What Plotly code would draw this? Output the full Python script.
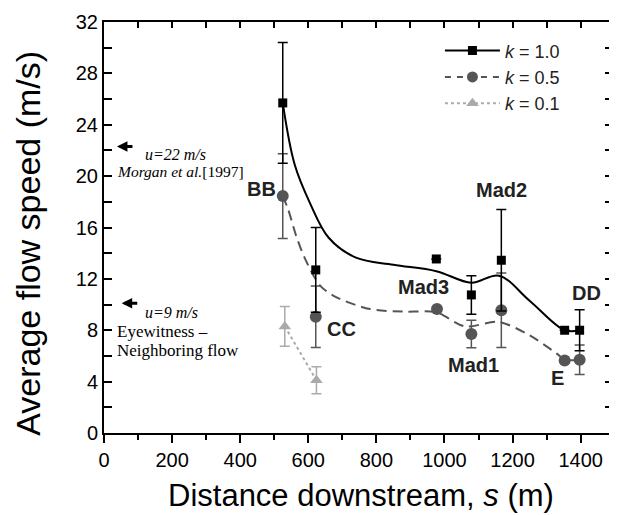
import plotly.graph_objects as go

# ---- data ----
k1_x = [525, 622, 976, 1079, 1167, 1353, 1397]
k1_y = [25.7, 12.7, 13.55, 10.75, 13.45, 8.0, 8.0]
k1_err = [4.7, 3.3, 0, 1.5, 3.95, 0, 1.6]

k5_x = [525, 622, 978, 1079, 1167, 1353, 1397]
k5_y = [18.45, 9.05, 9.65, 7.7, 9.55, 5.65, 5.7]
k5_err = [3.3, 2.4, 0, 1.07, 2.9, 0, 1.15]

k01_x = [531, 624]
k01_y = [8.3, 4.1]
k01_err = [1.55, 1.05]

# smoothed fit curves
fit1_x = [525, 560, 605, 660, 740, 850, 976, 1079, 1160, 1250, 1353, 1397]
fit1_y = [25.7, 20.9, 17.9, 15.2, 13.65, 13.1, 12.6, 11.7, 12.25, 10.3, 8.0, 8.0]

fit5_x = [525, 541, 565, 590, 634, 680, 781, 878, 976, 1060, 1160, 1250, 1329, 1353, 1397]
fit5_y = [18.45, 17.4, 15.3, 13.6, 11.5, 10.6, 9.65, 9.45, 9.4, 8.3, 8.65, 7.6, 6.2, 5.7, 5.7]

site_labels = ["BB", "CC", "Mad3", "Mad1", "Mad2", "DD", "E"]
site_lx = [510, 649, 937, 1084, 1167, 1416, 1333]
site_ly = [19.0, 8.1, 11.35, 5.3, 18.9, 10.9, 4.3]
site_anchor = ["right", "left", "center", "center", "center", "center", "center"]

legend_names = ["<i>k</i> = 1.0", "<i>k</i> = 0.5", "<i>k</i> = 0.1"]

C1, C5, C01 = "#000000", "#555555", "#aaaaaa"
SANS = "Liberation Sans, Arial, sans-serif"
SERIF = "Liberation Serif, Times New Roman, serif"

fig = go.Figure()

# fit curves
fig.add_trace(go.Scatter(x=fit1_x, y=fit1_y, mode="lines", line=dict(color=C1, width=2, shape="spline", smoothing=1.0),
                         showlegend=False, hoverinfo="skip"))
fig.add_trace(go.Scatter(x=fit5_x, y=fit5_y, mode="lines", line=dict(color=C5, width=2, dash="10px,6px", shape="spline", smoothing=0.8),
                         showlegend=False, hoverinfo="skip"))

# k = 0.1 (connected)
fig.add_trace(go.Scatter(x=k01_x, y=k01_y, mode="lines+markers",
                         line=dict(color=C01, width=2, dash="dot"),
                         marker=dict(symbol="triangle-up", size=11, color=C01),
                         error_y=dict(type="data", array=k01_err, color=C01, thickness=1.5, width=5),
                         showlegend=False))
# k = 0.5 points
fig.add_trace(go.Scatter(x=k5_x, y=k5_y, mode="markers",
                         marker=dict(symbol="circle", size=12, color=C5),
                         error_y=dict(type="data", array=k5_err, color=C5, thickness=1.5, width=5),
                         showlegend=False))
# k = 1.0 points
fig.add_trace(go.Scatter(x=k1_x, y=k1_y, mode="markers",
                         marker=dict(symbol="square", size=9, color=C1),
                         error_y=dict(type="data", array=k1_err, color=C1, thickness=1.5, width=5),
                         showlegend=False))

# legend entries
fig.add_trace(go.Scatter(x=[None], y=[None], mode="lines+markers", name=legend_names[0],
                         line=dict(color=C1, width=2), marker=dict(symbol="square", size=9, color=C1)))
fig.add_trace(go.Scatter(x=[None], y=[None], mode="lines+markers", name=legend_names[1],
                         line=dict(color=C5, width=2, dash="6px,6px"), marker=dict(symbol="circle", size=11, color=C5)))
fig.add_trace(go.Scatter(x=[None], y=[None], mode="lines+markers", name=legend_names[2],
                         line=dict(color=C01, width=2, dash="dot"), marker=dict(symbol="triangle-up", size=11, color=C01)))

# dummy for top axis
fig.add_trace(go.Scatter(x=[None], y=[None], xaxis="x2", showlegend=False, hoverinfo="skip"))

ann = []
for t, x, y, a in zip(site_labels, site_lx, site_ly, site_anchor):
    ann.append(dict(x=x, y=y, xref="x", yref="y", text="<b>%s</b>" % t, showarrow=False,
                    xanchor=a, yanchor="middle", font=dict(family=SANS, size=20, color="#222")))

# literature / eyewitness notes
ann += [
    dict(x=38, y=22.3, xref="x", yref="y", ax=88, ay=22.3, axref="x", ayref="y", text="", showarrow=True,
         arrowhead=2, arrowsize=0.7, arrowwidth=3, arrowcolor="black"),
    dict(x=115, y=21.65, xref="x", yref="y", text="<i>u=22 m/s</i>", showarrow=False, xanchor="left",
         font=dict(family=SERIF, size=16, color="black")),
    dict(x=32, y=20.35, xref="x", yref="y", text="<i>Morgan et al.</i>[1997]", showarrow=False, xanchor="left",
         font=dict(family=SERIF, size=15.5, color="black")),
    dict(x=52, y=10.1, xref="x", yref="y", ax=102, ay=10.1, axref="x", ayref="y", text="", showarrow=True,
         arrowhead=2, arrowsize=0.7, arrowwidth=3, arrowcolor="black"),
    dict(x=115, y=9.42, xref="x", yref="y", text="<i>u=9 m/s</i>", showarrow=False, xanchor="left",
         font=dict(family=SERIF, size=16, color="black")),
    dict(x=32, y=7.9, xref="x", yref="y", text="Eyewitness \u2013", showarrow=False, xanchor="left",
         font=dict(family=SERIF, size=17, color="black")),
    dict(x=32, y=6.46, xref="x", yref="y", text="Neighboring flow", showarrow=False, xanchor="left",
         font=dict(family=SERIF, size=17, color="black")),
    # axis titles
    dict(x=0.505, y=-0.153, xref="paper", yref="paper", text="Distance downstream, <i>s</i> (m)", showarrow=False,
         xanchor="center", yanchor="middle", font=dict(family=SANS, size=31, color="black")),
    dict(x=-0.15, y=0.462, xref="paper", yref="paper", text="Average flow speed (m/s)", showarrow=False,
         textangle=-90, xanchor="center", yanchor="middle", font=dict(family=SANS, size=34, color="black")),
]

fig.update_layout(
    width=609, height=507,
    margin=dict(l=96, r=4, t=14, b=82, autoexpand=False),
    paper_bgcolor="white", plot_bgcolor="white",
    font=dict(family=SANS, size=20, color="black"),
    showlegend=True,
    legend=dict(x=0.66, y=0.975, xanchor="left", yanchor="top", bgcolor="rgba(0,0,0,0)",
                font=dict(family=SANS, size=18, color="#222"), itemwidth=55, tracegroupgap=0),
    xaxis=dict(range=[0, 1495], tickvals=[0, 200, 400, 600, 800, 1000, 1200, 1400], automargin=False,
               ticks="outside", ticklen=8, tickwidth=2, tickcolor="black",
               minor=dict(tickvals=[100, 300, 500, 700, 900, 1100, 1300], ticks="outside", ticklen=5, tickwidth=2, tickcolor="black"),
               showline=True, linewidth=2, linecolor="black", mirror=True, showgrid=False, zeroline=False,
               tickfont=dict(family=SANS, size=20)),
    xaxis2=dict(range=[0, 1495], overlaying="x", side="top", anchor="y", automargin=False,
                tickvals=[100, 200, 300, 400, 500, 600, 700, 800, 900, 1000, 1100, 1200, 1300, 1400],
                ticks="inside", ticklen=6, tickwidth=2, tickcolor="black", showticklabels=False,
                showgrid=False, zeroline=False, showline=False),
    yaxis=dict(range=[0, 32], tickvals=[0, 4, 8, 12, 16, 20, 24, 28, 32], automargin=False,
               ticks="inside", ticklen=8, tickwidth=2, tickcolor="black",
               minor=dict(tickvals=[2, 6, 10, 14, 18, 22, 26, 30], ticks="inside", ticklen=5, tickwidth=2, tickcolor="black"),
               showline=True, linewidth=2, linecolor="black", mirror="allticks", showgrid=False, zeroline=False,
               tickfont=dict(family=SANS, size=20)),
    annotations=ann,
)

fig.write_html("out.html")
